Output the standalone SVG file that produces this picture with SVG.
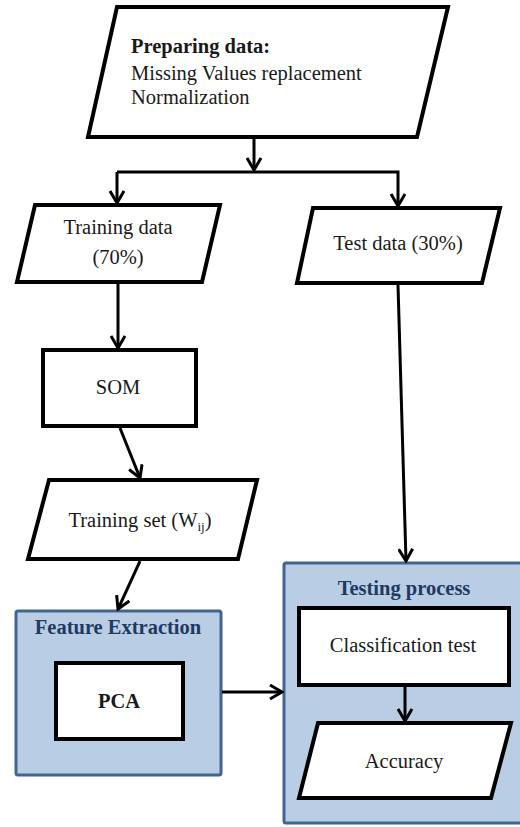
<svg xmlns="http://www.w3.org/2000/svg" width="520" height="827" viewBox="0 0 520 827">
<style>
.shape{fill:#fff;stroke:#000;stroke-width:4;stroke-linejoin:miter}
.group{fill:#b9cde5;stroke:#41658f;stroke-width:3}
.lbl{font-family:"Liberation Serif","Times New Roman",serif;font-size:20.5px;fill:#1a1a1a}
.mid{text-anchor:middle}
.bold{font-weight:bold}
.gtitle{font-family:"Liberation Serif","Times New Roman",serif;font-size:20.5px;font-weight:bold;fill:#1f3a5f;text-anchor:middle}
.line{fill:none;stroke:#000;stroke-width:3}
</style>
<defs>
<marker id="arr" viewBox="0 0 16 16" refX="14" refY="8" markerWidth="16" markerHeight="16" markerUnits="userSpaceOnUse" orient="auto">
<path d="M2,1 L14,8 L2,15" fill="none" stroke="#000" stroke-width="3"/>
</marker>
</defs>
<g id="feature-extraction">
<rect class="group" x="16" y="611" width="205" height="164" rx="2"/>
<text class="gtitle" x="118" y="634">Feature Extraction</text>
</g>
<g id="testing-process">
<rect class="group" x="284" y="563" width="240" height="260" rx="2"/>
<text class="gtitle" x="404" y="595">Testing process</text>
</g>
<g id="preparing">
<polygon class="shape" points="117,7 448,7 417,137 88,137"/>
<text class="lbl bold" x="131" y="53">Preparing data:</text>
<text class="lbl" x="131" y="80">Missing Values replacement</text>
<text class="lbl" x="131" y="104">Normalization</text>
</g>
<g id="training-data">
<polygon class="shape" points="35,205 220,205 202,282 17,282"/>
<text class="lbl mid" x="118" y="234">Training data</text>
<text class="lbl mid" x="118" y="264">(70%)</text>
</g>
<g id="test-data">
<polygon class="shape" points="313,208 500,208 482,283 297,283"/>
<text class="lbl mid" x="398" y="250">Test data (30%)</text>
</g>
<g id="som">
<rect class="shape" x="43" y="350" width="153" height="76"/>
<text class="lbl mid" x="118" y="394">SOM</text>
</g>
<g id="training-set">
<polygon class="shape" points="49,480 257,480 238,559 28,559"/>
<text class="lbl mid" x="140" y="527">Training set (W<tspan font-size="13" dy="4">ij</tspan><tspan dy="-4">)</tspan></text>
</g>
<g id="pca">
<rect class="shape" x="56" y="663" width="127" height="76"/>
<text class="lbl mid bold" x="119" y="708">PCA</text>
</g>
<g id="classification">
<rect class="shape" x="299" y="608" width="210" height="77"/>
<text class="lbl mid" x="403" y="652">Classification test</text>
</g>
<g id="accuracy">
<polygon class="shape" points="318,723 511,723 491,798 299,798"/>
<text class="lbl mid" x="404" y="768">Accuracy</text>
</g>
<g id="connectors">
<line class="line" x1="254" y1="139" x2="254" y2="170" marker-end="url(#arr)"/>
<polyline class="line" points="117,172 398,172 398,206" marker-end="url(#arr)"/>
<line class="line" x1="117" y1="172" x2="117" y2="203" marker-end="url(#arr)"/>
<line class="line" x1="118" y1="284" x2="118" y2="348" marker-end="url(#arr)"/>
<line class="line" x1="120" y1="428" x2="140" y2="478" marker-end="url(#arr)"/>
<line class="line" x1="140" y1="561" x2="118" y2="609" marker-end="url(#arr)"/>
<line class="line" x1="398" y1="285" x2="406" y2="561" marker-end="url(#arr)"/>
<line class="line" x1="222" y1="692" x2="282" y2="692" marker-end="url(#arr)"/>
<line class="line" x1="405" y1="687" x2="405" y2="721" marker-end="url(#arr)"/>
</g>
</svg>
